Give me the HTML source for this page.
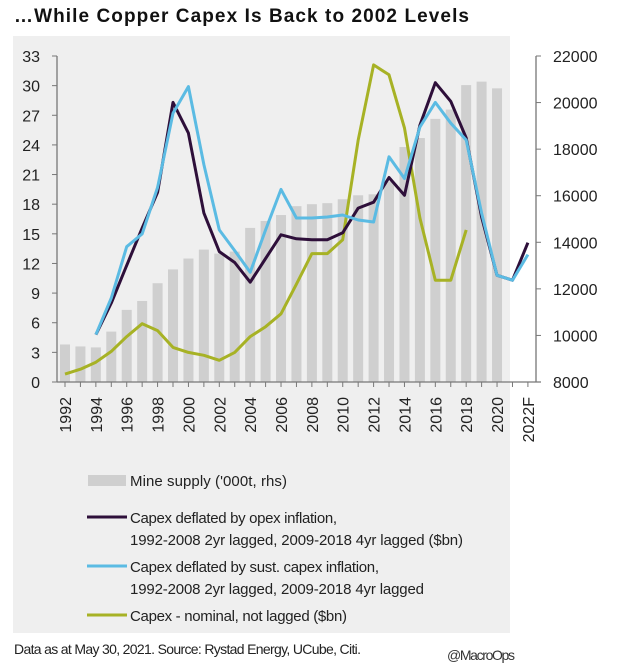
<!DOCTYPE html>
<html><head><meta charset="utf-8"><style>
body{margin:0;background:#fff;}
svg{display:block;font-family:"Liberation Sans",sans-serif;}
</style></head><body>
<svg id="c" width="624" height="671">
<rect x="13" y="36" width="497" height="597" fill="#efefef"/>
<text x="14" y="22" font-size="19" font-weight="bold" fill="#111" textLength="455">…While Copper Capex Is Back to 2002 Levels</text>
<g id="bars"></g><g id="lines"></g><g id="axes"></g>
<g font-size="15" fill="#222">
<rect x="88" y="475" width="38" height="11" fill="#cfcfcf"/>
<text x="130" y="486" textLength="157">Mine supply ('000t, rhs)</text>
<line x1="87" y1="517" x2="127" y2="517" stroke="#2e0f3a" stroke-width="3"/>
<text x="130" y="523" textLength="207">Capex deflated by opex inflation,</text>
<text x="130" y="545" textLength="333">1992-2008 2yr lagged, 2009-2018 4yr lagged ($bn)</text>
<line x1="87" y1="566" x2="127" y2="566" stroke="#5bbbe3" stroke-width="3"/>
<text x="130" y="572" textLength="249">Capex deflated by sust. capex inflation,</text>
<text x="130" y="594" textLength="294">1992-2008 2yr lagged, 2009-2018 4yr lagged</text>
<line x1="87" y1="615" x2="127" y2="615" stroke="#a7b225" stroke-width="3"/>
<text x="130" y="621" textLength="217">Capex - nominal, not lagged ($bn)</text>
</g>
<text x="14" y="654" font-size="14" fill="#222" textLength="347">Data as at May 30, 2021. Source: Rystad Energy, UCube, Citi.</text>
<text x="447" y="660" font-size="14" fill="#333" textLength="68">@MacroOps</text>
</svg>
<script>
const years=[1992,1993,1994,1995,1996,1997,1998,1999,2000,2001,2002,2003,2004,2005,2006,2007,2008,2009,2010,2011,2012,2013,2014,2015,2016,2017,2018,2019,2020,2021,2022];
const xLabels=["1992","1994","1996","1998","2000","2002","2004","2006","2008","2010","2012","2014","2016","2018","2020","2022F"];
const supply=[9612,9527,9485,10164,11097,11479,12242,12836,13303,13685,13515,13600,14618,14915,15170,15552,15636,15680,15848,16018,16060,16610,18090,18477,19300,19700,20750,20900,20610,null,null];
const opex=[null,null,4.8,8,11.8,15.6,19.2,28.3,25.2,17.1,13.2,12.1,10.1,12.5,14.9,14.5,14.4,14.4,15.1,17.6,18.2,20.7,18.9,26,30.3,28.4,24.7,16.7,10.8,10.3,14.1];
const sust=[null,null,4.8,8.5,13.7,15,19.7,27.2,29.9,22,15.4,13.3,11.1,15.4,19.5,16.6,16.6,16.7,16.9,16.4,16.2,22.8,20.6,25.8,28.3,26.2,24.5,17.1,10.8,10.3,12.9];
const nominal=[0.8,1.3,2.0,3.1,4.6,5.9,5.2,3.5,3.0,2.7,2.2,3.0,4.6,5.6,6.9,9.9,13,13,14.4,24.5,32.1,31.1,25.7,16.6,10.3,10.3,15.4,null,null,null,null];
const leftTicks=[0,3,6,9,12,15,18,21,24,27,30,33];
const rightTicks=[8000,10000,12000,14000,16000,18000,20000,22000];
const NS='http://www.w3.org/2000/svg';
const X0=65,DX=15.43,Y0=382,Y1=56,AXL=57,AXR=536;
const x=i=>X0+i*DX;
const yl=v=>Y0-(v/33)*(Y0-Y1);
const yr=v=>Y0-((v-8000)/14000)*(Y0-Y1);
function mk(t,a,p){const e=document.createElementNS(NS,t);for(const k in a)e.setAttribute(k,a[k]);p.appendChild(e);return e;}
const bars=document.getElementById('bars'),lines=document.getElementById('lines'),axes=document.getElementById('axes');
supply.forEach((v,i)=>{if(v==null)return;
 const r=mk('rect',{x:x(i)-5,y:yr(v),width:10,height:Y0-yr(v),fill:'#cfcfcf'},bars);
 
 });
function line(arr,col,name){let d='';let pen=false;arr.forEach((v,i)=>{if(v==null){pen=false;return;}d+=(pen?'L':'M')+x(i).toFixed(1)+','+yl(v).toFixed(1);pen=true;});
 const p=mk('path',{d:d,fill:'none',stroke:col,'stroke-width':3,'stroke-linejoin':'round'},lines);
 
 }
line(nominal,'#a7b225','line-nominal');
line(opex,'#2e0f3a','line-opex');
line(sust,'#5bbbe3','line-sust');
const st='#777';
const la=mk('line',{x1:AXL,y1:Y1,x2:AXL,y2:Y0,stroke:st,'stroke-width':1.3},axes);

const ra=mk('line',{x1:AXR,y1:Y1,x2:AXR,y2:Y0,stroke:st,'stroke-width':1.3},axes);

const xa=mk('line',{x1:AXL,y1:Y0,x2:AXR+5,y2:Y0,stroke:st,'stroke-width':1.3},axes);

leftTicks.forEach(v=>{mk('line',{x1:AXL-5,y1:yl(v),x2:AXL,y2:yl(v),stroke:st},axes);
 const t=mk('text',{x:40,y:yl(v)+6,'font-size':16,'text-anchor':'end',fill:'#222'},axes);t.textContent=v;
 });
rightTicks.forEach(v=>{mk('line',{x1:AXR,y1:yr(v),x2:AXR+5,y2:yr(v),stroke:st},axes);
 const t=mk('text',{x:553,y:yr(v)+6,'font-size':16,fill:'#222'},axes);t.textContent=v;
 });
years.forEach((y,i)=>{mk('line',{x1:x(i),y1:Y0,x2:x(i),y2:Y0+5,stroke:st},axes);});
xLabels.forEach((s,j)=>{const xx=x(j*2)+6;
 const t=mk('text',{x:0,y:0,'font-size':16,'text-anchor':'end',fill:'#222',transform:'translate('+xx+',397) rotate(-90)'},axes);t.textContent=s;
 });
</script>
</body></html>
